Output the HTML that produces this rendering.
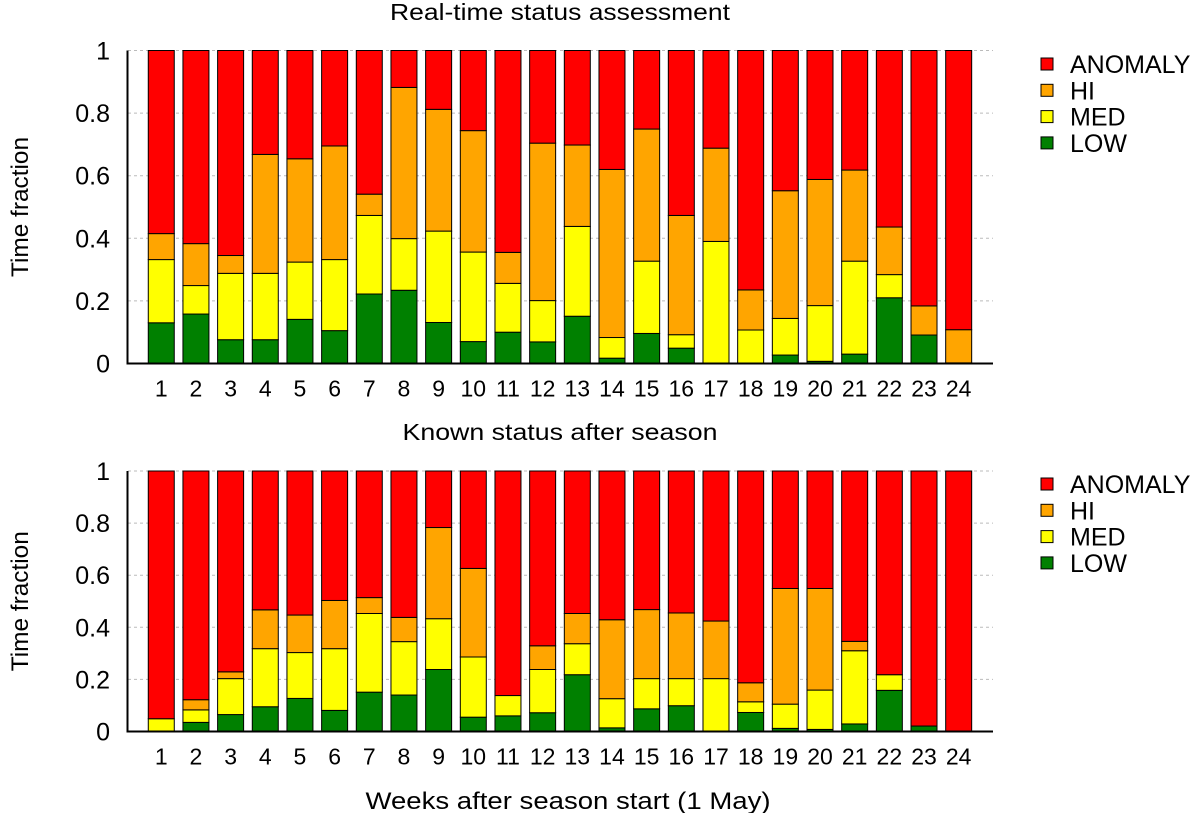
<!DOCTYPE html>
<html><head><meta charset="utf-8"><style>
body{margin:0;background:#fff}
svg{display:block;font-family:"Liberation Sans",sans-serif}
</style></head><body>
<svg id="c" width="1200" height="813" viewBox="0 0 1200 813"></svg>
<script>
const weeks=[1,2,3,4,5,6,7,8,9,10,11,12,13,14,15,16,17,18,19,20,21,22,23,24];
const seriesNames=["LOW","MED","HI","ANOMALY"];
const topLow=[0.130,0.158,0.076,0.076,0.141,0.105,0.222,0.234,0.131,0.070,0.100,0.069,0.151,0.017,0.096,0.049,0,0,0.027,0.007,0.030,0.210,0.091,0.002];
const topMed=[0.202,0.091,0.212,0.212,0.183,0.227,0.251,0.165,0.292,0.286,0.156,0.132,0.287,0.066,0.231,0.043,0.390,0.107,0.117,0.178,0.297,0.074,0,0];
const topHi=[0.083,0.134,0.057,0.380,0.330,0.363,0.068,0.483,0.389,0.388,0.099,0.503,0.260,0.537,0.422,0.381,0.298,0.128,0.408,0.403,0.291,0.152,0.093,0.106];
const topAnomaly=[0.585,0.617,0.655,0.332,0.346,0.305,0.459,0.118,0.188,0.256,0.645,0.296,0.302,0.380,0.251,0.527,0.312,0.765,0.448,0.412,0.382,0.564,0.816,0.892];
const botLow=[0,0.035,0.065,0.095,0.127,0.081,0.151,0.140,0.238,0.055,0.060,0.072,0.218,0.014,0.087,0.099,0,0.073,0.012,0.008,0.029,0.158,0.021,0];
const botMed=[0.049,0.048,0.138,0.223,0.176,0.237,0.302,0.205,0.195,0.231,0.078,0.166,0.119,0.112,0.116,0.104,0.203,0.041,0.093,0.151,0.281,0.060,0,0];
const botHi=[0,0.039,0.026,0.149,0.144,0.185,0.061,0.093,0.350,0.340,0,0.091,0.116,0.303,0.265,0.252,0.221,0.073,0.444,0.390,0.036,0,0,0];
const botAnomaly=[0.951,0.878,0.771,0.533,0.553,0.497,0.486,0.562,0.217,0.374,0.862,0.671,0.547,0.571,0.532,0.545,0.576,0.813,0.451,0.451,0.654,0.782,0.979,1];
const yTicks=[0,0.2,0.4,0.6,0.8,1];
const yTickLabels=["0","0.2","0.4","0.6","0.8","1"];
const colors=["#008000","#ffff00","#ffa500","#ff0000"];

const svg=document.getElementById('c');
const NS="http://www.w3.org/2000/svg";
function mk(tag,attrs,parent){const e=document.createElementNS(NS,tag);for(const k in attrs)e.setAttribute(k,attrs[k]);(parent||svg).appendChild(e);return e;}
const xs=v=>126.6+v*34.67;
const barW=26;

function panel(id,title,titleLen,titleY,y0,y1,data,legendY){
  const ys=v=>y0+(y1-y0)*v;
  const g=mk('g',{});
  
  
  const t=mk('text',{x:560,y:titleY,'text-anchor':'middle','font-size':23,textLength:titleLen,lengthAdjust:'spacingAndGlyphs'},g);
  t.textContent=title;
  
  
  yTicks.forEach((v,i)=>{
    const gl=mk('line',{x1:128,x2:993,y1:ys(v),y2:ys(v),stroke:'#bbb','stroke-dasharray':'3,3','stroke-width':1},g);
    
    
    const tl=mk('text',{x:110,y:ys(v)+9,'text-anchor':'end','font-size':25},g);
    tl.textContent=yTickLabels[i];
    
    
  });
  weeks.forEach((w,i)=>{
    let cum=0;
    data.forEach((s,k)=>{
      const v=s[i];
      if(v>0){
        const r=mk('rect',{x:xs(w)-barW/2,y:ys(cum+v),width:barW,height:ys(cum)-ys(cum+v),fill:colors[k],stroke:'#000','stroke-width':1},g);
        
        
      }
      cum+=v;
    });
    const xl=mk('text',{x:xs(w),y:y0+33,'text-anchor':'middle','font-size':23},g);
    xl.textContent=w;
    
    
  });
  const ax=mk('path',{d:`M127.5 ${y1} V${y0} H993`,fill:'none',stroke:'#000','stroke-width':2},g);
  
  
  const yt=mk('text',{transform:`translate(28,${(y0+y1)/2}) rotate(-90)`,'text-anchor':'middle','font-size':24,textLength:140,lengthAdjust:'spacingAndGlyphs'},g);
  yt.textContent='Time fraction';
  
  
  [3,2,1,0].forEach((k,j)=>{
    const cy=legendY+j*26.3;
    const lb=mk('rect',{x:1041,y:cy-6,width:12,height:12,fill:colors[k],stroke:'#000','stroke-width':1},g);
    
    
    const lt=mk('text',{x:1070,y:cy+9,'font-size':25},g);
    lt.textContent=seriesNames[k];
    
    
  });
}
panel('top','Real-time status assessment',340,20,363.5,50.5,[topLow,topMed,topHi,topAnomaly],64);
panel('bottom','Known status after season',315,440,731.5,471,[botLow,botMed,botHi,botAnomaly],484);
const xt=mk('text',{x:568,y:809,'text-anchor':'middle','font-size':24,textLength:405,lengthAdjust:'spacingAndGlyphs'});
xt.textContent='Weeks after season start (1 May)';


</script>
</body></html>
